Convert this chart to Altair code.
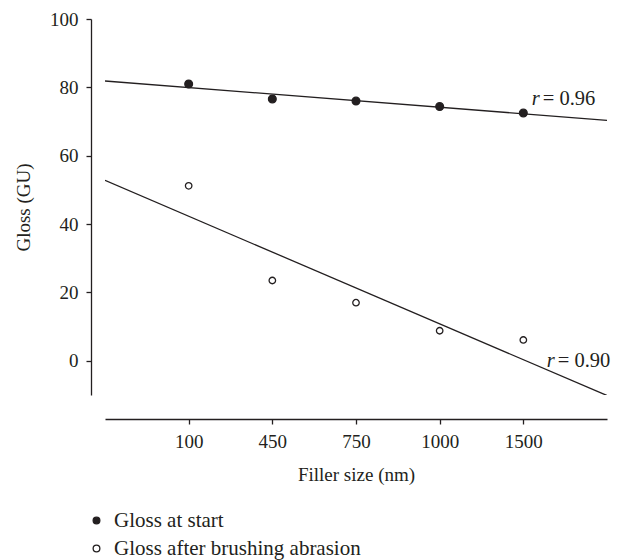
import altair as alt
import pandas as pd

# ---- data ----
filler_labels = ["100", "450", "750", "1000", "1500"]
filler_index = [0, 1, 2, 3, 4]
gloss_start = [81.0, 76.6, 76.0, 74.4, 72.5]
gloss_after = [51.2, 23.5, 17.0, 8.8, 6.1]
series_names = ["Gloss at start", "Gloss after brushing abrasion"]
point_sizes = [60, 42]

r_text = ["= 0.96", "= 0.90"]
r_x = [4.10, 4.28]
r_y = [74.9, -1.7]

INK = "#231f20"
FONT = "Liberation Serif"

rows = []
for i, lab in enumerate(filler_labels):
    rows.append({"idx": filler_index[i], "gloss": gloss_start[i], "series": series_names[0], "sz": point_sizes[0]})
    rows.append({"idx": filler_index[i], "gloss": gloss_after[i], "series": series_names[1], "sz": point_sizes[1]})
df = pd.DataFrame(rows)
lab_df = pd.DataFrame({"x": r_x, "y": r_y, "t": r_text})

label_expr = "[" + ",".join("'" + s + "'" for s in filler_labels) + "][datum.value]"

x_enc = alt.X(
    "idx:Q",
    scale=alt.Scale(domain=[-1, 5], nice=False, zero=False),
    axis=alt.Axis(
        title="Filler size (nm)", values=filler_index, labelExpr=label_expr,
        grid=False, offset=24, tickSize=5, labelPadding=8, titlePadding=14,
    ),
)
y_enc = alt.Y(
    "gloss:Q",
    scale=alt.Scale(domain=[-10, 100], nice=False, zero=False),
    axis=alt.Axis(
        title="Gloss (GU)", values=[0, 20, 40, 60, 80, 100], grid=False,
        offset=14, tickSize=5, labelPadding=8, titlePadding=16,
    ),
)

base = alt.Chart(df)

lines = base.transform_regression(
    "idx", "gloss", groupby=["series"], extent=[-1, 5]
).mark_line(color=INK, strokeWidth=1.3, clip=True).encode(
    x=x_enc, y=y_enc, detail="series:N"
)

points = base.mark_point(shape="circle", stroke=INK, strokeWidth=1.3, opacity=1, fillOpacity=1).encode(
    x=x_enc,
    y=y_enc,
    fill=alt.Fill(
        "series:N",
        scale=alt.Scale(domain=series_names, range=[INK, "white"]),
        legend=alt.Legend(
            title=None, orient="none", legendX=-19, legendY=491,
            symbolType="circle", symbolSize=45, symbolStrokeColor=INK,
            symbolStrokeWidth=1.3, labelOffset=7, rowPadding=6, labelLimit=0,
            labelFont=FONT, labelFontSize=21, labelColor=INK,
        ),
    ),
    size=alt.Size("sz:Q", scale=None),
)

r_italic = alt.Chart(lab_df).mark_text(
    text="r", font=FONT, fontStyle="italic", fontSize=20.5, color=INK, align="left", baseline="alphabetic"
).encode(
    x=alt.X("x:Q", scale=alt.Scale(domain=[-1, 5], nice=False, zero=False)),
    y=alt.Y("y:Q", scale=alt.Scale(domain=[-10, 100], nice=False, zero=False)),
)
r_rest = alt.Chart(lab_df).mark_text(
    font=FONT, fontSize=20.5, color=INK, align="left", baseline="alphabetic", dx=11
).encode(
    x=alt.X("x:Q", scale=alt.Scale(domain=[-1, 5], nice=False, zero=False)),
    y=alt.Y("y:Q", scale=alt.Scale(domain=[-10, 100], nice=False, zero=False)),
    text="t:N",
)

chart = alt.layer(lines, points, r_italic, r_rest).properties(
    width=502, height=376,
    autosize=alt.AutoSizeParams(type="none"),
    padding={"left": 105, "top": 19, "right": 14, "bottom": 165},
    background="white",
).configure_view(stroke=None).configure_axis(
    domainColor=INK, domainWidth=1.3, tickColor=INK, tickWidth=1.3,
    labelFont=FONT, labelFontSize=19, labelColor=INK,
    titleFont=FONT, titleFontSize=19, titleColor=INK, titleFontWeight="normal",
)

chart.save("out.html", embed_options={"renderer": "svg", "actions": False})
